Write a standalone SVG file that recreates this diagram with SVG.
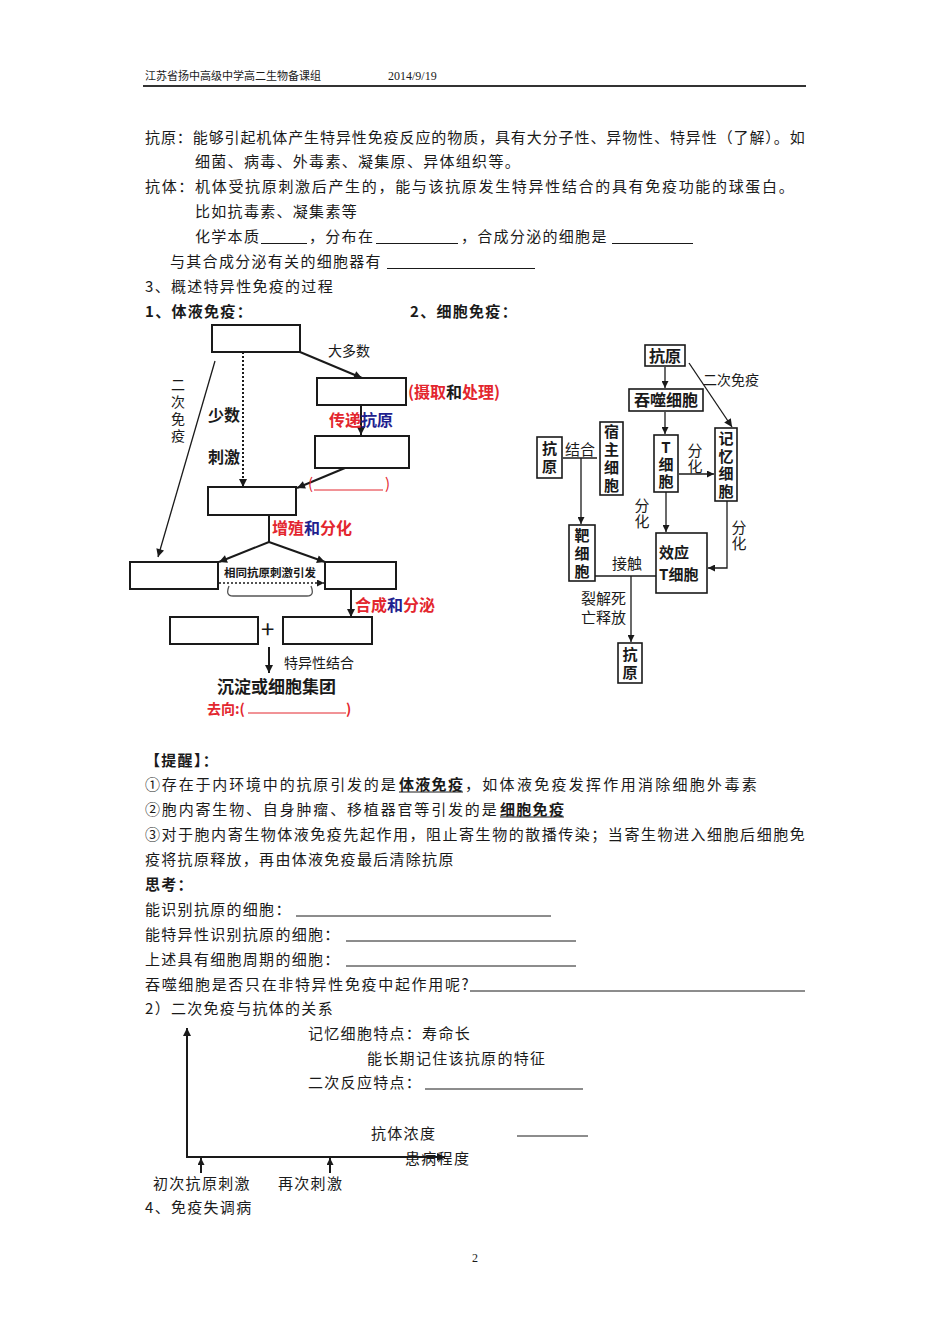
<svg xmlns="http://www.w3.org/2000/svg" width="950" height="1344" viewBox="0 0 950 1344">
<defs>
<style>
text{font-family:"Noto Sans CJK SC","Noto Sans CJK JP",sans-serif;fill:#1a1a1a}
.t{font-size:15px;letter-spacing:1.3px}
.hd{font-size:11px}
.num{font-family:"Liberation Serif",serif;font-size:12px}
.b{font-weight:bold}
.r{fill:#e3262e}
.n{fill:#1f1f8f}
.k{fill:#1a1a1a}
.bx{fill:#fff;stroke:#1a1a1a;stroke-width:2}
.bx2{fill:#fff;stroke:#1a1a1a;stroke-width:1.6}
.ln{stroke:#1a1a1a;stroke-width:2;fill:none}
.ln1{stroke:#1a1a1a;stroke-width:1.3;fill:none}
.ul{stroke:#1a1a1a;stroke-width:1}
.d{stroke-dasharray:2 2}
.rl{stroke:#e3262e;stroke-width:1}
.v{text-anchor:middle}
.vt{writing-mode:vertical-rl;text-orientation:upright;text-anchor:middle}
.l14{font-size:14px}
.l15{font-size:15px}
.l16{font-size:16px}
</style>
<marker id="a" markerUnits="userSpaceOnUse" viewBox="0 0 10 10" refX="10" refY="5" markerWidth="10" markerHeight="8" orient="auto"><path d="M0,0L10,5L0,10z" fill="#1a1a1a"/></marker>
<marker id="s" markerUnits="userSpaceOnUse" viewBox="0 0 10 10" refX="10" refY="5" markerWidth="9" markerHeight="7" orient="auto"><path d="M0,0L10,5L0,10z" fill="#1a1a1a"/></marker>
</defs>
<rect width="950" height="1344" fill="#fff"/>

<g id="header">
<text class="hd" x="145" y="80">江苏省扬中高级中学高二生物备课组</text>
<text class="num" x="388" y="80">2014/9/19</text>
<line x1="143" y1="86" x2="806" y2="86" stroke="#333" stroke-width="2"/>
</g>

<g id="intro">
<text class="t" x="145" y="143" textLength="661" lengthAdjust="spacing">抗原：能够引起机体产生特异性免疫反应的物质，具有大分子性、异物性、特异性（了解）。如</text>
<text class="t" x="195" y="167">细菌、病毒、外毒素、凝集原、异体组织等。</text>
<text class="t" x="145" y="192" textLength="650" lengthAdjust="spacing">抗体：机体受抗原刺激后产生的，能与该抗原发生特异性结合的具有免疫功能的球蛋白。</text>
<text class="t" x="195" y="217">比如抗毒素、凝集素等</text>
<text class="t" x="195" y="242">化学本质</text>
<line class="ul" x1="261" y1="243.5" x2="307" y2="243.5"/>
<text class="t" x="309" y="242">，分布在</text>
<line class="ul" x1="376" y1="243.5" x2="458" y2="243.5"/>
<text class="t" x="461" y="242">，合成分泌的细胞是</text>
<line class="ul" x1="612" y1="243.5" x2="693" y2="243.5"/>
<text class="t" x="170" y="267">与其合成分泌有关的细胞器有</text>
<line class="ul" x1="387" y1="268.5" x2="535" y2="268.5"/>
<text class="t" x="145" y="292">3、概述特异性免疫的过程</text>
<text class="t b" x="145" y="317">1、体液免疫：</text>
<text class="t b" x="410" y="317">2、细胞免疫：</text>
</g>

<g id="humoral-connectors">
<line class="ln" x1="300" y1="352" x2="362" y2="378" marker-end="url(#a)"/>
<line class="ln" x1="361" y1="405" x2="361" y2="435" marker-end="url(#a)"/>
<line class="ln" x1="345" y1="468" x2="297" y2="488" marker-end="url(#a)"/>
<line class="ln d" x1="243" y1="352" x2="243" y2="487" marker-end="url(#a)"/>
<line class="ln1" x1="215" y1="361" x2="158" y2="557" marker-end="url(#a)"/>
<line class="ln" x1="269" y1="515" x2="269" y2="542"/>
<line class="ln" x1="269" y1="542" x2="219" y2="562" marker-end="url(#a)"/>
<line class="ln" x1="269" y1="542" x2="325" y2="562" marker-end="url(#a)"/>
<line class="ln1 d" x1="219" y1="583" x2="324" y2="583" marker-end="url(#s)"/>
<line class="ln" x1="351" y1="589" x2="351" y2="617" marker-end="url(#a)"/>
<line class="ln" x1="269" y1="647" x2="269" y2="673" marker-end="url(#a)"/>
</g>

<g id="h-top"><rect class="bx" x="212" y="325" width="88" height="27"/></g>
<g id="h-apc"><rect class="bx" x="317" y="378" width="89" height="27"/></g>
<g id="h-tcell"><rect class="bx" x="315" y="436" width="94" height="32"/></g>
<g id="h-bcell"><rect class="bx" x="208" y="487" width="88" height="28"/></g>
<g id="h-memory"><rect class="bx" x="130" y="562" width="88" height="27"/></g>
<g id="h-plasma"><rect class="bx" x="325" y="562" width="71" height="27"/></g>
<g id="h-antigen"><rect class="bx" x="170" y="617" width="88" height="27"/></g>
<g id="h-antibody"><rect class="bx" x="283" y="617" width="89" height="27"/></g>

<g id="humoral-labels">
<text class="l14" x="328" y="356">大多数</text>
<text class="l16 b" x="408" y="398"><tspan class="r">(摄取</tspan><tspan class="k">和</tspan><tspan class="r">处理)</tspan></text>
<text class="l16 b" x="329" y="426"><tspan class="r">传递</tspan><tspan class="n">抗原</tspan></text>
<text class="l15 r" x="308" y="489">(</text>
<line class="rl" x1="314" y1="490" x2="383" y2="490"/>
<text class="l15 r" x="385" y="489">)</text>
<text class="l16 b" x="208" y="421">少数</text>
<text class="l16 b" x="208" y="463">刺激</text>
<text class="l14 vt" x="178" y="412" style="letter-spacing:3px">二次免疫</text>
<text class="l16 b" x="272" y="534"><tspan class="r">增殖</tspan><tspan class="n">和</tspan><tspan class="r">分化</tspan></text>
<text class="b" style="font-size:11.5px" x="224" y="577">相同抗原刺激引发</text>
<path d="M229 586 Q225 596 233 596 L307 596 Q315 596 311 586" fill="none" stroke="#555" stroke-width="1.3"/>
<text class="l16 b" x="355" y="611"><tspan class="r">合成</tspan><tspan class="n">和</tspan><tspan class="r">分泌</tspan></text>
<text style="font-size:24px" x="261" y="638">+</text>
<text class="l14" x="284" y="668">特异性结合</text>
<text class="b" style="font-size:17px" x="217" y="693">沉淀或细胞集团</text>
<text class="b r" style="font-size:14px" x="207" y="714">去向:(</text>
<line class="rl" x1="248" y1="713" x2="346" y2="713"/>
<text class="b r" style="font-size:14px" x="346" y="714">)</text>
</g>

<g id="cellular-connectors">
<line class="ln1" x1="665" y1="367" x2="665" y2="388" marker-end="url(#s)"/>
<line class="ln1" x1="665" y1="412" x2="665" y2="434" marker-end="url(#s)"/>
<line class="ln1" x1="689" y1="363" x2="732" y2="427" marker-end="url(#a)"/>
<line class="ln1" x1="679" y1="474" x2="714" y2="474" marker-end="url(#s)"/>
<line class="ln1" x1="563" y1="458" x2="597" y2="458"/>
<line class="ln1" x1="581" y1="458" x2="581" y2="524" marker-end="url(#s)"/>
<line class="ln1" x1="666" y1="492" x2="666" y2="532" marker-end="url(#s)"/>
<polyline class="ln1" points="727,501 727,568 708,568" marker-end="url(#s)"/>
<line class="ln1" x1="595" y1="576" x2="656" y2="576"/>
<line class="ln1" x1="631" y1="576" x2="631" y2="642" marker-end="url(#s)"/>
</g>

<g id="c-antigen"><rect class="bx2" x="645" y="345" width="40" height="21"/><text class="l16 b v" x="665" y="362">抗原</text></g>
<g id="c-phagocyte"><rect class="bx2" x="629" y="389" width="74" height="22"/><text class="l16 b v" x="666" y="406">吞噬细胞</text></g>
<g id="c-tcell"><rect class="bx2" x="654" y="435" width="24" height="57"/><text class="l15 b vt" x="666" y="465" style="letter-spacing:2px">T细胞</text></g>
<g id="c-memory"><rect class="bx2" x="715" y="428" width="22" height="73"/><text class="l15 b vt" x="726" y="466" style="letter-spacing:2.5px">记忆细胞</text></g>
<g id="c-antigen2"><rect class="bx2" x="537" y="437" width="25" height="41"/><text class="l15 b vt" x="549.5" y="459" style="letter-spacing:3px">抗原</text></g>
<g id="c-host"><rect class="bx2" x="600" y="422" width="23" height="73"/><text class="l15 b vt" x="611.5" y="460" style="letter-spacing:3px">宿主细胞</text></g>
<g id="c-target"><rect class="bx2" x="569" y="525" width="26" height="56"/><text class="l15 b vt" x="582" y="555" style="letter-spacing:3px">靶细胞</text></g>
<g id="c-effector"><rect class="bx2" x="656" y="533" width="51" height="60"/><text class="l15 b" x="659" y="558">效应</text><text class="l15 b" x="659" y="580">T细胞</text></g>
<g id="c-antigen3"><rect class="bx2" x="618" y="643" width="24" height="40"/><text class="l15 b vt" x="630" y="665" style="letter-spacing:3px">抗原</text></g>

<g id="cellular-labels">
<text class="l14" x="703" y="385">二次免疫</text>
<text class="l15" x="565" y="455">结合</text>
<text class="l15 vt" x="695" y="459" style="letter-spacing:1px">分化</text>
<text class="l15 vt" x="642" y="514" style="letter-spacing:1px">分化</text>
<text class="l15 vt" x="739" y="536" style="letter-spacing:1px">分化</text>
<text class="l15" x="612" y="569">接触</text>
<text class="l15" x="581" y="604">裂解死</text>
<text class="l15" x="581" y="623">亡释放</text>
</g>

<g id="tips">
<text class="t b" x="145" y="766">【提醒】：</text>
<text class="t" x="145" y="790" textLength="252" lengthAdjust="spacing">①存在于内环境中的抗原引发的是</text>
<text class="t b" x="399" y="790">体液免疫</text>
<line class="ul" x1="399" y1="792" x2="463" y2="792" stroke-width="1.4"/>
<text class="t" x="465" y="790" textLength="293" lengthAdjust="spacing">，如体液免疫发挥作用消除细胞外毒素</text>
<text class="t" x="145" y="815" textLength="353" lengthAdjust="spacing">②胞内寄生物、自身肿瘤、移植器官等引发的是</text>
<text class="t b" x="500" y="815">细胞免疫</text>
<line class="ul" x1="500" y1="817" x2="564" y2="817" stroke-width="1.4"/>
<text class="t" x="145" y="840" textLength="661" lengthAdjust="spacing">③对于胞内寄生物体液免疫先起作用，阻止寄生物的散播传染；当寄生物进入细胞后细胞免</text>
<text class="t" x="145" y="865">疫将抗原释放，再由体液免疫最后清除抗原</text>
<text class="t b" x="145" y="890">思考：</text>
<text class="t" x="145" y="915">能识别抗原的细胞：</text>
<line class="ul" x1="296" y1="916" x2="551" y2="916"/>
<text class="t" x="145" y="940">能特异性识别抗原的细胞：</text>
<line class="ul" x1="346" y1="941" x2="576" y2="941"/>
<text class="t" x="145" y="965">上述具有细胞周期的细胞：</text>
<line class="ul" x1="346" y1="966" x2="576" y2="966"/>
<text class="t" x="145" y="990" textLength="325" lengthAdjust="spacing">吞噬细胞是否只在非特异性免疫中起作用呢?</text>
<line class="ul" x1="470" y1="991" x2="805" y2="991"/>
<text class="t" x="145" y="1014">2）二次免疫与抗体的关系</text>
</g>

<g id="graph">
<line class="ln" x1="187" y1="1157" x2="187" y2="1028" marker-end="url(#a)"/>
<line class="ln" x1="186" y1="1157" x2="445" y2="1157" marker-end="url(#a)"/>
<line class="ln" x1="201" y1="1173" x2="201" y2="1158" marker-end="url(#s)"/>
<line class="ln" x1="330" y1="1173" x2="330" y2="1158" marker-end="url(#s)"/>
<text class="t" x="308" y="1039">记忆细胞特点：寿命长</text>
<text class="t" x="367" y="1064">能长期记住该抗原的特征</text>
<text class="t" x="308" y="1088">二次反应特点：</text>
<line class="ul" x1="425" y1="1089" x2="583" y2="1089"/>
<text class="t" x="371" y="1139">抗体浓度</text>
<line class="ul" x1="517" y1="1136" x2="588" y2="1136" stroke-width="1.3"/>
<text class="t" x="405" y="1164">患病程度</text>
<text class="t" x="153" y="1189">初次抗原刺激</text>
<text class="t" x="278" y="1189">再次刺激</text>
<text class="t" x="145" y="1213">4、免疫失调病</text>
</g>

<g id="footer">
<text class="num" x="472" y="1262">2</text>
</g>
</svg>
